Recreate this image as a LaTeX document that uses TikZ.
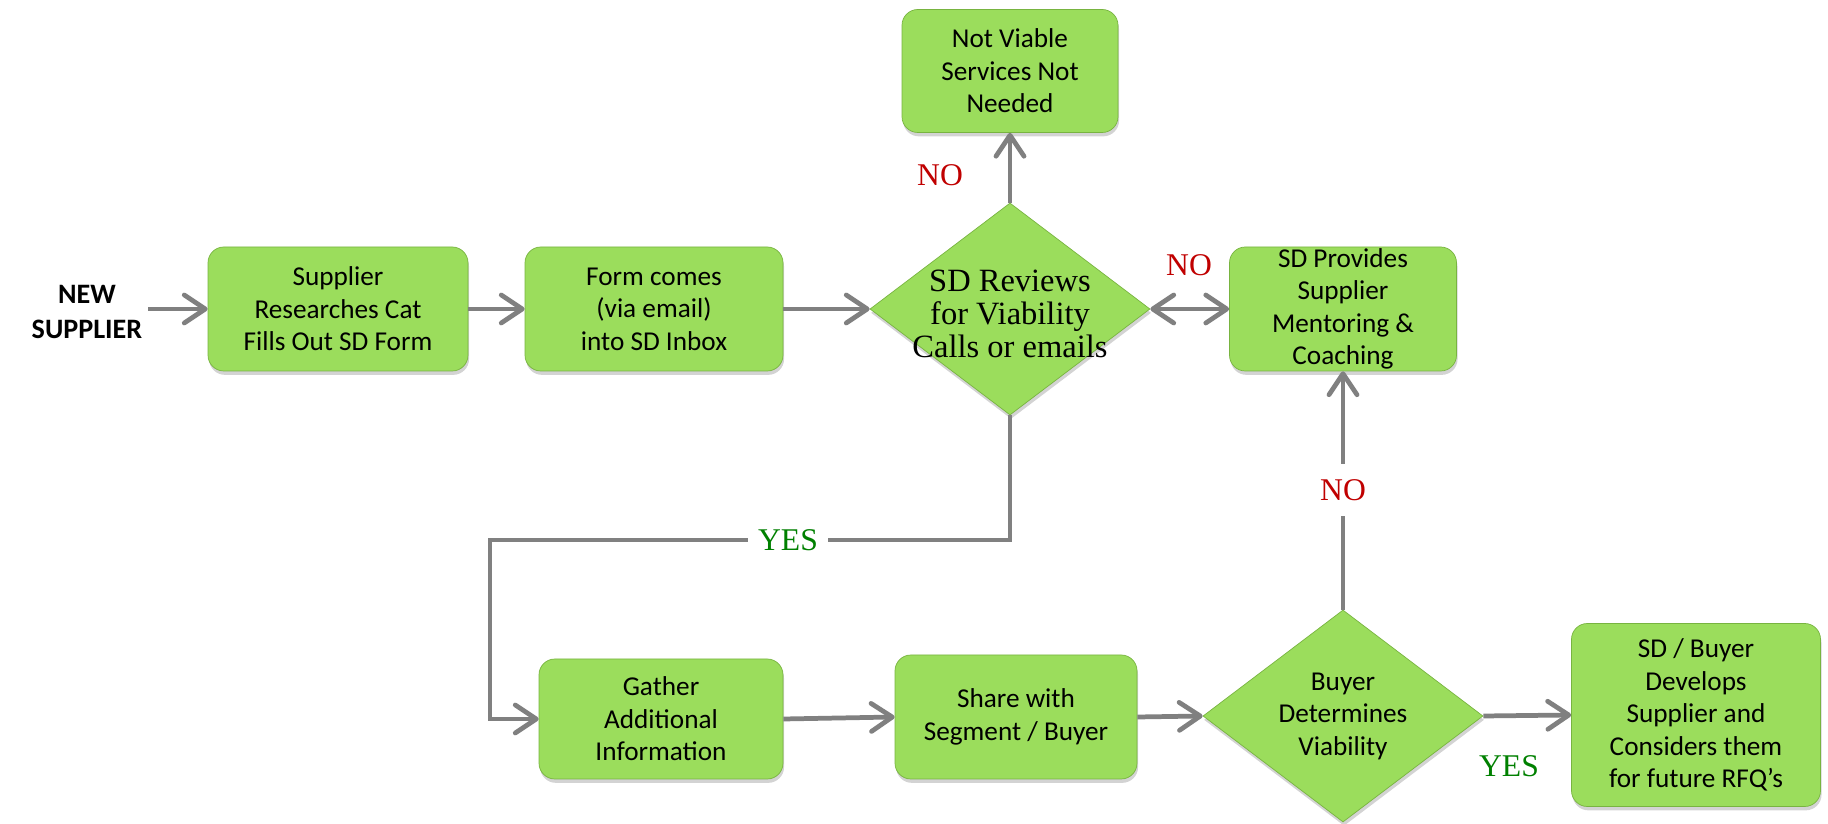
\documentclass[tikz,border=0pt]{standalone}
\usepackage{fontspec}
\setmainfont{Carlito}
\newfontfamily\labelserif{Liberation Serif}
\usetikzlibrary{arrows.meta,positioning,shapes.geometric,shadows}
\definecolor{stepgreen}{RGB}{155,221,92}
\definecolor{stepedge}{RGB}{120,180,64}
\definecolor{arrowgray}{RGB}{128,128,128}
\definecolor{nored}{RGB}{192,0,0}
\definecolor{yesgreen}{RGB}{0,128,0}
\tikzset{
  flow/.style={-{Straight Barb[round,length=4.2mm,width=5.6mm]}, line width=2.7pt, draw=arrowgray},
  flowboth/.style={{Straight Barb[round,length=4.2mm,width=5.6mm]}-{Straight Barb[round,length=4.2mm,width=5.6mm]}, line width=2.7pt, draw=arrowgray},
  stepbox/.style={
    draw=stepedge, thin, rounded corners=9pt,
    fill=stepgreen, align=center, inner sep=0pt,
    minimum width=5.2cm, minimum height=2.48cm,
    font=\fontsize{15.5}{18.5}\selectfont,
    drop shadow={shadow xshift=0.6pt, shadow yshift=-2.2pt, opacity=0.35}
  },
  decision/.style={
    diamond, draw=stepedge, thin, fill=stepgreen,
    inner sep=0pt, minimum width=5.6cm, minimum height=4.24cm,
    drop shadow={shadow xshift=0.6pt, shadow yshift=-2.2pt, opacity=0.35}
  },
  reviewtext/.style={align=center, font=\labelserif\fontsize{18.5}{18.8}\selectfont},
  buyertext/.style={align=center, font=\fontsize{15.5}{18.5}\selectfont},
  nolabel/.style={text=nored, font=\labelserif\fontsize{18}{20}\selectfont},
  yeslabel/.style={text=yesgreen, font=\labelserif\fontsize{18}{20}\selectfont},
  gap/.style={fill=white, inner xsep=6pt, inner ysep=9pt}
}

\begin{document}
\begin{tikzpicture}

\useasboundingbox (0,0) rectangle (36.56,16.48);

%--------------------------------------------------
% Top row: intake
%--------------------------------------------------
\node[font=\bfseries\fontsize{16}{19.8}\selectfont, align=center] (newsup) at (1.74,10.24)
{NEW\\SUPPLIER};

\node[stepbox] (fillform) at (6.76,10.30) {Supplier\\Researches Cat\\Fills Out SD Form};

\node[stepbox, minimum width=5.16cm] (inbox) at (13.08,10.30) {Form comes\\(via email)\\into SD Inbox};

\node[decision] (review) at (20.2,10.30) {};
\node[reviewtext] (reviewtxt) at ([yshift=-0.1cm]review.center) {SD Reviews\\for Viability\\Calls or emails};

\node[stepbox, minimum width=4.32cm, minimum height=2.46cm] (notviable) at (20.2,15.06)
{Not Viable\\Services Not\\Needed};

\node[stepbox, minimum width=4.54cm] (mentor) at (26.86,10.30)
{SD Provides\\Supplier\\Mentoring \&\\Coaching};

%--------------------------------------------------
% Bottom row: buyer path
%--------------------------------------------------
\node[stepbox, minimum width=4.88cm, minimum height=2.4cm] (gather) at (13.22,2.10)
{Gather\\Additional\\Information};

\node[stepbox, minimum width=4.84cm] (share) at (20.32,2.14) {Share with\\Segment / Buyer};

\node[decision] (buyer) at (26.86,2.16) {};
\node[buyertext] (buyertxt) at (buyer.center) {Buyer\\Determines\\Viability};

\node[stepbox, minimum width=4.98cm, minimum height=3.66cm] (develop) at (33.92,2.18)
{SD / Buyer\\Develops\\Supplier and\\Considers them\\for future RFQ's};

\coordinate (yesturn) at (9.8,5.68);

%--------------------------------------------------
% Connectors
%--------------------------------------------------
\draw[flow] (newsup.east |- fillform.west) -- (fillform.west);
\draw[flow] (fillform) -- (inbox);
\draw[flow] (inbox.east) -- (review.west);
\draw[flow] (review.north) -- (notviable.south);
\draw[flowboth] (review.east) -- (mentor.west);
\draw[flow] (review.south) |- (yesturn) |- (gather.west);
\draw[flow] (gather.east) -- (share.west);
\draw[flow] (share.east) -- (buyer.west);
\draw[flow] (buyer.east) -- (develop.west);
\draw[flow] (buyer.north) -- (mentor.south);

%--------------------------------------------------
% Branch labels
%--------------------------------------------------
\node[nolabel] (noup) at (18.8,12.98) {NO};
\node[nolabel] (noright) at (23.78,11.18) {NO};
\node[nolabel, gap] (nobuyer) at (26.86,6.68) {NO};
\node[yeslabel, gap] (yesreview) at (15.76,5.68) {YES};
\node[yeslabel] (yesbuyer) at (30.18,1.16) {YES};

\end{tikzpicture}
\end{document}
